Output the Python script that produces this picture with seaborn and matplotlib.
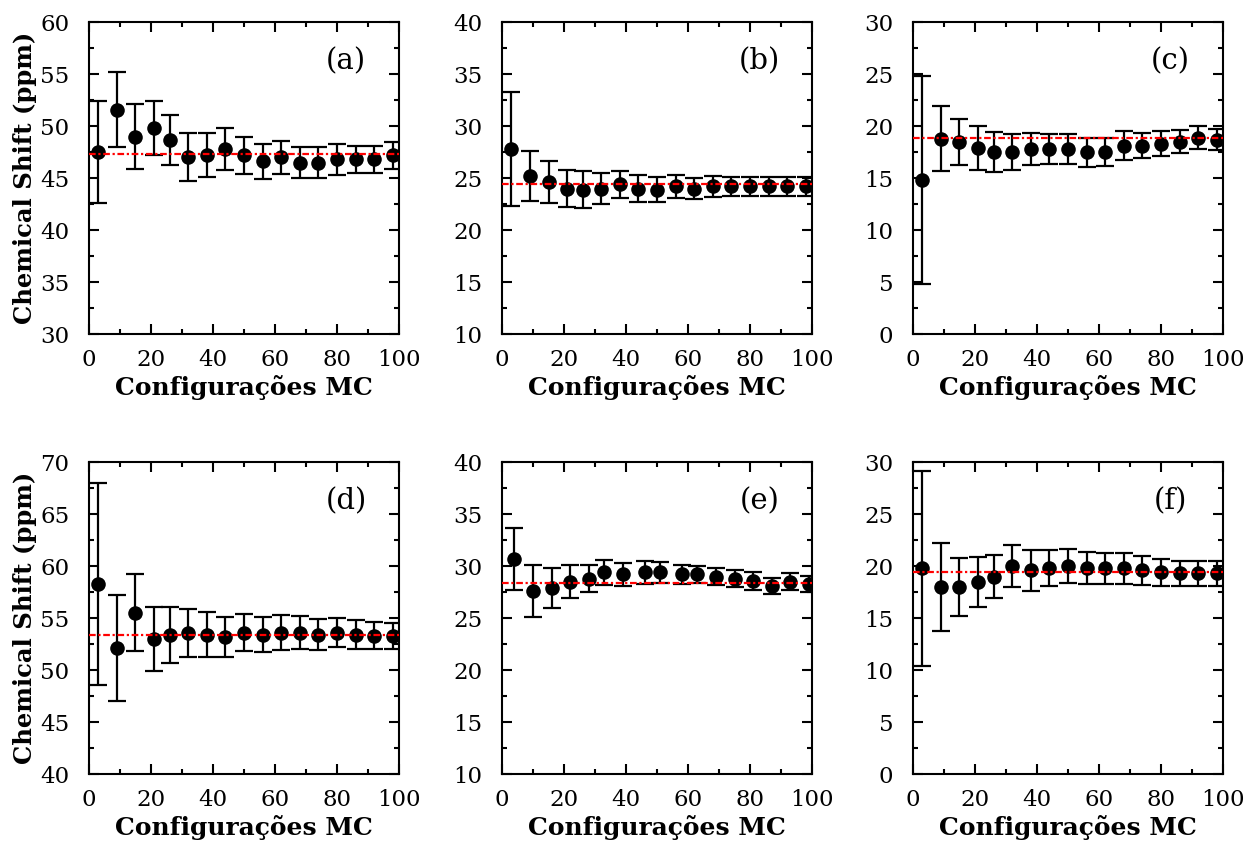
import matplotlib
matplotlib.use("Agg")
import matplotlib.pyplot as plt
from matplotlib.ticker import MultipleLocator
import seaborn as sns

# MC configuration counts (panel e is sampled slightly shifted)
x_mc = [3, 9, 15, 21, 26, 32, 38, 44, 50, 56, 62, 68, 74, 80, 86, 92, 98]
x_mc_e = [4, 10, 16, 22, 28, 33, 39, 46, 51, 58, 63, 69, 75, 81, 87, 93, 99]

# chemical shift values (ppm) and error bars per panel
shift_a = [47.5, 51.6, 49.0, 49.8, 48.7, 47.0, 47.2, 47.8, 47.2, 46.6, 47.0, 46.5, 46.5, 46.8, 46.8, 46.8, 47.2]
err_a = [4.9, 3.6, 3.1, 2.6, 2.4, 2.3, 2.1, 2.0, 1.8, 1.7, 1.6, 1.5, 1.5, 1.5, 1.3, 1.3, 1.3]
shift_b = [27.8, 25.2, 24.6, 24.0, 23.9, 24.0, 24.4, 24.0, 23.9, 24.2, 24.0, 24.2, 24.2, 24.2, 24.2, 24.2, 24.2]
err_b = [5.5, 2.4, 2.0, 1.75, 1.75, 1.45, 1.3, 1.3, 1.2, 1.1, 1.0, 1.0, 0.9, 0.9, 0.9, 0.9, 0.9]
shift_c = [14.8, 18.8, 18.5, 17.9, 17.5, 17.5, 17.8, 17.8, 17.8, 17.5, 17.5, 18.1, 18.1, 18.3, 18.5, 18.9, 18.7]
err_c = [10.0, 3.1, 2.2, 2.1, 1.95, 1.75, 1.55, 1.45, 1.4, 1.4, 1.35, 1.4, 1.2, 1.2, 1.1, 1.1, 1.0]
shift_d = [58.3, 52.1, 55.5, 53.0, 53.4, 53.6, 53.4, 53.2, 53.6, 53.4, 53.6, 53.6, 53.4, 53.6, 53.4, 53.3, 53.3]
err_d = [9.7, 5.1, 3.7, 3.1, 2.7, 2.3, 2.15, 1.9, 1.8, 1.7, 1.7, 1.6, 1.5, 1.4, 1.4, 1.3, 1.25]
shift_e = [30.7, 27.6, 27.9, 28.5, 28.8, 29.4, 29.2, 29.4, 29.4, 29.2, 29.2, 29.0, 28.8, 28.6, 28.1, 28.5, 28.3]
err_e = [3.0, 2.5, 1.9, 1.6, 1.3, 1.2, 1.1, 1.1, 1.0, 0.9, 0.85, 0.85, 0.85, 0.85, 0.8, 0.8, 0.8]
shift_f = [19.8, 18.0, 18.0, 18.5, 19.0, 20.0, 19.6, 19.8, 20.0, 19.8, 19.8, 19.8, 19.6, 19.4, 19.3, 19.3, 19.3]
err_f = [9.4, 4.2, 2.8, 2.4, 2.1, 2.0, 2.0, 1.75, 1.65, 1.55, 1.5, 1.5, 1.4, 1.3, 1.2, 1.2, 1.2]

# converged reference values (red dashed lines)
ref_values = [47.3, 24.4, 18.9, 53.4, 28.4, 19.4]

panel_labels = ["(a)", "(b)", "(c)", "(d)", "(e)", "(f)"]
y_limits = [(30, 60), (10, 40), (0, 30), (40, 70), (10, 40), (0, 30)]


def setup_style():
    """Plain white gnuplot-like look with serif text"""
    sns.set_theme(style="ticks")
    plt.rcParams['font.family'] = ['DejaVu Serif']
    plt.rcParams['axes.linewidth'] = 1.5
    plt.rcParams['axes.edgecolor'] = 'black'
    plt.rcParams['text.color'] = 'black'
    plt.rcParams['axes.labelcolor'] = 'black'
    plt.rcParams['xtick.color'] = 'black'
    plt.rcParams['ytick.color'] = 'black'


def draw_panel(ax, x, y, err, ref, label, ylim):
    ax.errorbar(x, y, yerr=err, fmt='none', ecolor='black',
                elinewidth=1.6, capsize=6.5, capthick=1.6, zorder=2)
    sns.scatterplot(x=x, y=y, color='black', s=110, edgecolor='black',
                    linewidth=0, ax=ax, zorder=3)
    ax.axhline(ref, color='red', lw=1.6, ls=(0, (3, 1.2, 1, 1.2)), zorder=4)

    ax.set_xlim(0, 100)
    ax.set_ylim(*ylim)
    ax.xaxis.set_major_locator(MultipleLocator(20))
    ax.xaxis.set_minor_locator(MultipleLocator(10))
    ax.yaxis.set_major_locator(MultipleLocator(5))
    ax.yaxis.set_minor_locator(MultipleLocator(2.5))
    ax.tick_params(which='both', direction='in', top=True, right=True,
                   color='black', width=1.5)
    ax.tick_params(which='major', length=7, labelsize=16.5)
    ax.tick_params(which='minor', length=3.5)
    ax.tick_params(axis='x', which='major', pad=11)
    ax.tick_params(axis='y', which='major', pad=14)
    for s in ax.spines.values():
        s.set_visible(True)
        s.set_color('black')
    ax.set_xlabel('Configurações MC', fontsize=18, fontweight='bold', labelpad=3)
    ax.text(0.83, 0.875, label, transform=ax.transAxes, fontsize=21,
            ha='center', va='center')


setup_style()
fig = plt.figure(figsize=(12.46, 8.46), dpi=100)

lefts = [0.0714, 0.4029, 0.7327]
bottoms = [0.6052, 0.0851]
width, height = 0.2488, 0.3685

series = [
    (x_mc, shift_a, err_a),
    (x_mc, shift_b, err_b),
    (x_mc, shift_c, err_c),
    (x_mc, shift_d, err_d),
    (x_mc_e, shift_e, err_e),
    (x_mc, shift_f, err_f),
]

for i, (x, y, err) in enumerate(series):
    row, col = divmod(i, 3)
    ax = fig.add_axes([lefts[col], bottoms[row], width, height])
    draw_panel(ax, x, y, err, ref_values[i], panel_labels[i], y_limits[i])
    if col == 0:
        ax.set_ylabel('Chemical Shift (ppm)', fontsize=17.5, fontweight='bold', labelpad=2)

fig.savefig('out.png', dpi=100, facecolor='white')
